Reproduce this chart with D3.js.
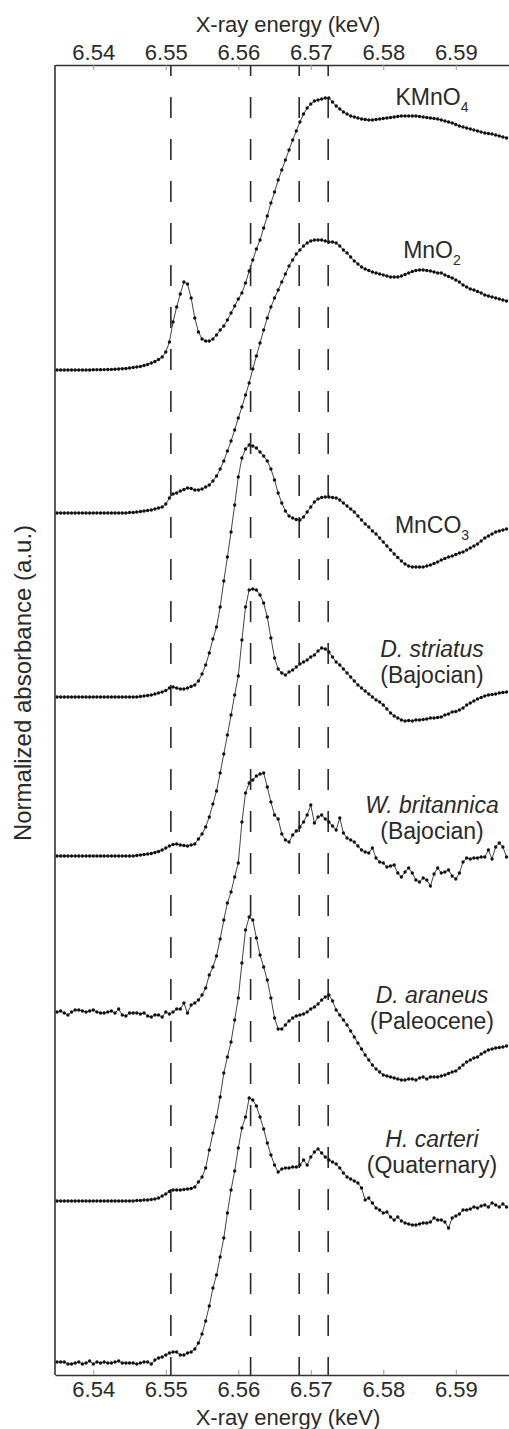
<!DOCTYPE html>
<html><head><meta charset="utf-8">
<script src="https://cdn.jsdelivr.net/npm/d3@7"></script>
<style>
body{margin:0;background:#fff}
svg{display:block}
text{font-family:"Liberation Sans",Arial,Helvetica,sans-serif;fill:#2a2a2a}
</style>
</head><body><svg id="chart" width="509" height="1429"></svg>
<script>
// ---------- data ----------
const energy = [
6.5350,6.5355,6.5360,6.5365,6.5370,6.5375,6.5380,6.5385,6.5390,6.5395,
6.5400,6.5405,6.5410,6.5415,6.5420,6.5425,6.5430,6.5435,6.5440,6.5445,
6.5450,6.5455,6.5460,6.5465,6.5470,6.5475,6.5480,6.5485,6.5490,6.5495,
6.5500,6.5505,6.5510,6.5515,6.5520,6.5525,6.5530,6.5535,6.5540,6.5545,
6.5550,6.5555,6.5560,6.5565,6.5570,6.5575,6.5580,6.5585,6.5590,6.5595,
6.5600,6.5605,6.5610,6.5615,6.5620,6.5625,6.5630,6.5635,6.5640,6.5645,
6.5650,6.5655,6.5660,6.5665,6.5670,6.5675,6.5680,6.5685,6.5690,6.5695,
6.5700,6.5705,6.5710,6.5715,6.5720,6.5725,6.5730,6.5735,6.5740,6.5745,
6.5750,6.5755,6.5760,6.5765,6.5770,6.5775,6.5780,6.5785,6.5790,6.5795,
6.5800,6.5805,6.5810,6.5815,6.5820,6.5825,6.5830,6.5835,6.5840,6.5845,
6.5850,6.5855,6.5860,6.5865,6.5870,6.5875,6.5880,6.5885,6.5890,6.5895,
6.5900,6.5905,6.5910,6.5915,6.5920,6.5925,6.5930,6.5935,6.5940,6.5945,
6.5950,6.5955,6.5960,6.5965,6.5970];

const kmno4 = [
0,0,0,0,0,0,0,0,0,0,
0.002,0.002,0.003,0.004,0.005,0.006,0.008,0.010,0.012,0.015,
0.020,0.025,0.030,0.035,0.045,0.055,0.070,0.085,0.105,0.130,
0.18,0.28,0.48,0.63,0.76,0.88,0.86,0.72,0.52,0.38,
0.31,0.29,0.29,0.31,0.35,0.40,0.44,0.50,0.57,0.64,
0.71,0.77,0.87,0.99,1.10,1.21,1.30,1.42,1.54,1.67,
1.78,1.90,2.00,2.10,2.20,2.30,2.39,2.48,2.56,2.62,
2.66,2.69,2.70,2.71,2.72,2.72,2.68,2.64,2.61,2.58,
2.56,2.54,2.53,2.52,2.51,2.505,2.50,2.50,2.505,2.51,
2.515,2.52,2.525,2.53,2.535,2.54,2.54,2.54,2.54,2.54,
2.535,2.53,2.525,2.52,2.515,2.51,2.50,2.49,2.48,2.47,
2.455,2.44,2.43,2.42,2.41,2.40,2.39,2.38,2.37,2.365,
2.36,2.35,2.34,2.33,2.32];

const mno2 = [
0,0,0,0,0,0,0,0,0,0,
0,0,0,0,0,0,0,0,0,0,
0.005,0.005,0.01,0.015,0.02,0.025,0.03,0.04,0.05,0.06,
0.09,0.15,0.19,0.20,0.22,0.235,0.25,0.245,0.23,0.23,
0.24,0.26,0.28,0.32,0.37,0.44,0.52,0.62,0.72,0.83,
0.95,1.06,1.18,1.30,1.44,1.57,1.70,1.83,1.95,2.06,
2.15,2.23,2.31,2.39,2.47,2.53,2.59,2.63,2.67,2.70,
2.72,2.73,2.73,2.73,2.72,2.71,2.71,2.70,2.67,2.63,
2.60,2.56,2.52,2.49,2.46,2.44,2.425,2.41,2.40,2.39,
2.38,2.37,2.36,2.36,2.36,2.37,2.385,2.40,2.415,2.425,
2.43,2.43,2.425,2.42,2.41,2.40,2.40,2.38,2.365,2.35,
2.33,2.31,2.28,2.26,2.24,2.23,2.215,2.20,2.18,2.17,
2.16,2.15,2.14,2.13,2.12];

const mnco3 = [
0,0,0,0,0,0,0,0,0,0,
0,0,0,0,0,0,0,0,0,0,
0,0,0,0.005,0.01,0.015,0.02,0.03,0.04,0.05,
0.065,0.09,0.10,0.09,0.08,0.08,0.09,0.105,0.12,0.16,
0.23,0.32,0.44,0.58,0.70,0.90,1.16,1.40,1.65,1.92,
2.20,2.39,2.48,2.52,2.51,2.49,2.45,2.41,2.36,2.28,
2.17,2.04,1.94,1.86,1.81,1.79,1.775,1.77,1.80,1.85,
1.90,1.95,1.98,1.995,2.00,2.00,1.995,1.99,1.97,1.94,
1.91,1.88,1.85,1.81,1.77,1.73,1.70,1.66,1.63,1.59,
1.55,1.51,1.47,1.43,1.395,1.36,1.33,1.31,1.30,1.30,
1.30,1.30,1.31,1.32,1.335,1.35,1.37,1.385,1.40,1.41,
1.425,1.44,1.45,1.47,1.49,1.51,1.53,1.56,1.59,1.61,
1.63,1.65,1.66,1.67,1.68];

const dStriatus = [
0,0,0,0,0,0,0,0,0,0,
0,0,0,0,0,0,0,0,0,0,
0,0,0.005,0.01,0.015,0.02,0.025,0.035,0.045,0.06,
0.08,0.10,0.115,0.12,0.11,0.105,0.10,0.11,0.12,0.17,
0.22,0.29,0.39,0.52,0.65,0.83,1.02,1.21,1.41,1.61,
1.80,2.16,2.49,2.66,2.67,2.66,2.61,2.53,2.39,2.18,
1.98,1.87,1.83,1.81,1.84,1.86,1.89,1.92,1.94,1.96,
1.99,2.01,2.05,2.08,2.07,2.04,1.99,1.94,1.91,1.87,
1.83,1.79,1.75,1.71,1.68,1.65,1.62,1.59,1.56,1.54,
1.51,1.47,1.43,1.40,1.38,1.36,1.35,1.355,1.35,1.36,
1.36,1.365,1.37,1.38,1.38,1.385,1.39,1.41,1.42,1.44,
1.445,1.46,1.48,1.51,1.53,1.55,1.57,1.585,1.60,1.61,
1.615,1.62,1.63,1.635,1.64];

const wBritannica = [
0.01,0.02,0,-0.02,0.01,0.03,0.03,0.02,0.01,0.02,
0.03,0.01,0,0,0.01,0.02,0,0.04,-0.02,-0.03,
0,0,0,-0.01,0,-0.03,-0.04,-0.02,-0.02,-0.04,
0.01,-0.01,0.01,0.04,0.04,0.10,0.00,0.08,0.10,0.13,
0.18,0.25,0.38,0.46,0.57,0.74,0.93,1.10,1.21,1.36,
1.50,1.91,2.20,2.30,2.33,2.37,2.39,2.40,2.26,2.11,
1.98,1.94,1.79,1.73,1.71,1.78,1.82,1.86,1.91,1.98,
2.08,1.90,1.96,1.98,1.94,1.91,1.87,1.83,1.95,1.80,
1.75,1.73,1.71,1.67,1.63,1.61,1.60,1.65,1.55,1.51,
1.50,1.46,1.47,1.48,1.40,1.36,1.41,1.45,1.40,1.33,
1.31,1.35,1.33,1.27,1.39,1.45,1.40,1.41,1.43,1.37,
1.34,1.40,1.51,1.55,1.54,1.55,1.55,1.56,1.56,1.63,
1.54,1.66,1.70,1.66,1.56];

const dAraneus = [
0,0,0,0,0,0,0,0,0,0,
0,0,0,0,0,0,0,0,0,0,
0,0,0.005,0.005,0.01,0.01,0.015,0.02,0.03,0.05,
0.07,0.095,0.11,0.11,0.11,0.115,0.12,0.125,0.14,0.19,
0.24,0.33,0.51,0.68,0.84,1.04,1.28,1.44,1.59,1.81,
2.03,2.38,2.71,2.84,2.81,2.63,2.46,2.34,2.21,2.03,
1.83,1.72,1.72,1.76,1.80,1.83,1.85,1.86,1.87,1.89,
1.92,1.94,1.97,2.01,2.04,2.06,2.00,1.91,1.86,1.81,
1.76,1.70,1.64,1.58,1.52,1.46,1.41,1.36,1.32,1.29,
1.26,1.25,1.24,1.23,1.22,1.21,1.21,1.22,1.22,1.21,
1.23,1.24,1.22,1.24,1.24,1.24,1.25,1.26,1.275,1.29,
1.30,1.33,1.36,1.39,1.41,1.43,1.44,1.47,1.49,1.51,
1.52,1.53,1.535,1.54,1.55];

const hCarteri = [
0.01,0.01,0.01,-0.01,-0.01,0,0.01,-0.01,0,0.02,
-0.01,0.01,0,0.01,0,0,0.01,0.02,0,0,
0,0,-0.01,0,0.01,0.01,-0.01,0.03,0.05,0.06,
0.08,0.10,0.11,0.11,0.08,0.08,0.10,0.11,0.14,0.20,
0.29,0.42,0.57,0.75,0.88,1.06,1.25,1.50,1.73,1.92,
2.15,2.35,2.46,2.65,2.63,2.57,2.46,2.34,2.20,2.08,
1.98,1.91,1.94,1.95,1.95,1.96,1.96,1.98,2.03,1.98,
2.06,2.11,2.14,2.10,2.06,2.03,2.01,1.99,1.95,1.90,
1.86,1.84,1.82,1.80,1.75,1.63,1.65,1.60,1.55,1.53,
1.50,1.51,1.46,1.43,1.46,1.42,1.40,1.39,1.38,1.38,
1.39,1.40,1.40,1.41,1.45,1.43,1.43,1.41,1.35,1.45,
1.47,1.49,1.53,1.53,1.54,1.56,1.55,1.57,1.58,1.56,
1.60,1.58,1.56,1.59,1.56];

// vertical stacking offsets (a.u.)
const offsets = [10.05, 8.62, 6.78, 5.19, 3.62, 1.74, 0.12];
const seriesValues = [kmno4, mno2, mnco3, dStriatus, wBritannica, dAraneus, hCarteri];
const seriesNames = ["KMnO4","MnO2","MnCO3","D. striatus","W. britannica","D. araneus","H. carteri"];
const seriesAges  = ["","","","(Bajocian)","(Bajocian)","(Paleocene)","(Quaternary)"];
const xTickValues = [6.54, 6.55, 6.56, 6.57, 6.58, 6.59];
const refEnergies = [6.5507, 6.5617, 6.5684, 6.5724];
const xTitle = "X-ray energy (keV)";
const yTitle = "Normalized absorbance (a.u.)";

// ---------- layout ----------
const plotL = 55, plotR = 509, plotT = 65, plotB = 1375;
const svg = d3.select("#chart");

const x = d3.scaleLinear().domain([6.53472, 6.59734]).range([plotL, plotR]);
const y = d3.scaleLinear().domain([0, (plotB - plotT) / 100]).range([plotB, plotT]);

// reference dashed lines
svg.append("g").selectAll("line").data(refEnergies).join("line")
  .attr("x1", d => x(d)).attr("x2", d => x(d))
  .attr("y1", plotT).attr("y2", plotB)
  .attr("stroke", "#2a2a2a").attr("stroke-width", 1.6)
  .attr("stroke-dasharray", "21 21").attr("stroke-dashoffset", 10);

// curves
const line = d3.line().x(d => x(d[0])).y(d => y(d[1]));
seriesValues.forEach((vals, k) => {
  const pts = energy.map((e, i) => [e, vals[i] + offsets[k]]);
  const g = svg.append("g");
  g.append("path").datum(pts).attr("d", line)
    .attr("fill", "none").attr("stroke", "#444").attr("stroke-width", 1);
  g.selectAll("circle").data(pts).join("circle")
    .attr("cx", d => x(d[0])).attr("cy", d => y(d[1])).attr("r", 1.7)
    .attr("fill", "#111");
});

// axes
const fs = "22px";
const topAxis = d3.axisTop(x).tickValues(xTickValues).tickFormat(d3.format(".2f"))
  .tickSizeInner(-5).tickSizeOuter(0).tickPadding(5);
const botAxis = d3.axisBottom(x).tickValues(xTickValues).tickFormat(d3.format(".2f"))
  .tickSizeInner(-5).tickSizeOuter(0).tickPadding(6);
function styleAxis(g) {
  g.select(".domain").attr("stroke", "#333").attr("stroke-width", 1.6);
  g.selectAll(".tick line").attr("stroke", "#999").attr("stroke-width", 1);
  g.selectAll(".tick text").attr("font-size", fs).attr("fill", "#2a2a2a")
    .attr("font-family", "Liberation Sans, Arial, sans-serif");
}
svg.append("g").attr("transform", `translate(0,${plotT})`).call(topAxis).call(styleAxis);
svg.append("g").attr("transform", `translate(0,${plotB})`).call(botAxis).call(styleAxis);
svg.append("line").attr("x1", plotL).attr("x2", plotL).attr("y1", plotT).attr("y2", plotB)
  .attr("stroke", "#333").attr("stroke-width", 1.6);

// titles
svg.append("text").attr("x", 288).attr("y", 32).attr("text-anchor", "middle")
  .attr("font-size", "22px").text(xTitle);
svg.append("text").attr("x", 288).attr("y", 1425).attr("text-anchor", "middle")
  .attr("font-size", "22px").text(xTitle);
svg.append("text").attr("transform", "translate(31,683) rotate(-90)")
  .attr("text-anchor", "middle").attr("font-size", "24px").text(yTitle);

// curve labels
const labelX = 432;
const labelBase = [105, 258, 533, 657, 813, 1003, 1147];
seriesNames.forEach((name, k) => {
  const t = svg.append("text").attr("x", labelX).attr("y", labelBase[k])
    .attr("text-anchor", "middle").attr("font-size", "23px");
  if (k < 3) {
    const base = name.slice(0, -1), sub = name.slice(-1);
    t.append("tspan").text(base);
    t.append("tspan").attr("font-size", "14px").attr("dy", 7).text(sub);
  } else {
    t.attr("font-style", "italic").text(name);
    svg.append("text").attr("x", labelX).attr("y", labelBase[k] + 26)
      .attr("text-anchor", "middle").attr("font-size", "23px").text(seriesAges[k]);
  }
});
</script>
</body></html>
